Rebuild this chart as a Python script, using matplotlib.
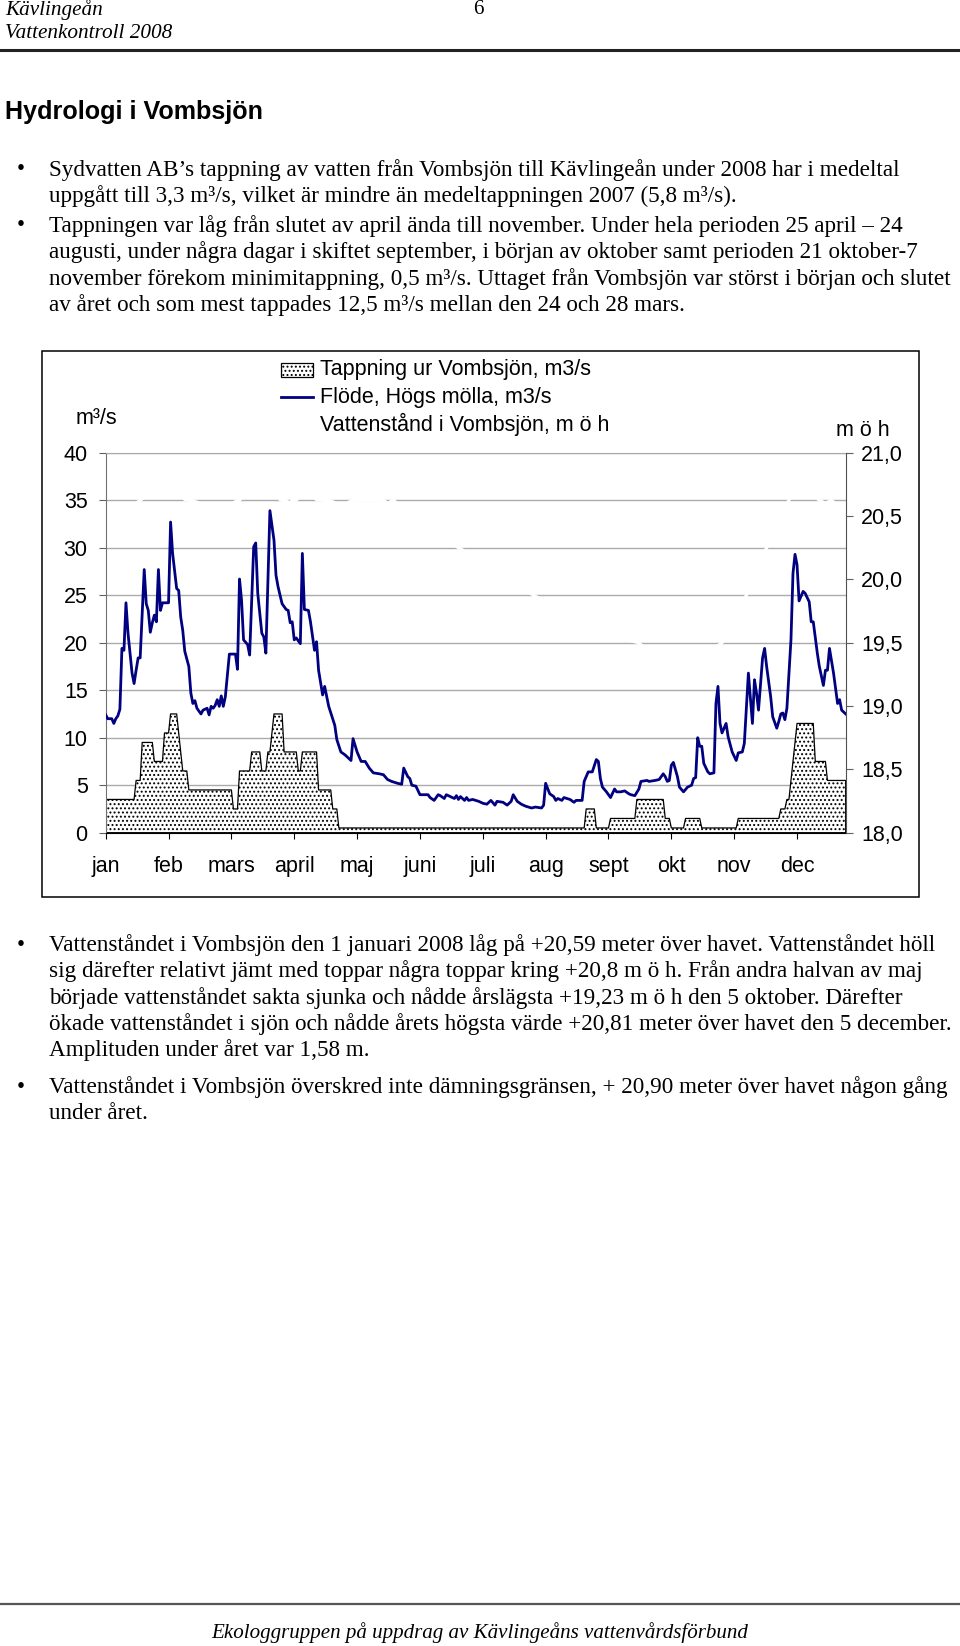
import numpy as np
import matplotlib
matplotlib.use("Agg")
import matplotlib.pyplot as plt
from matplotlib.patches import Rectangle
from matplotlib.lines import Line2D

# ---------------- data ----------------
months = ['jan', 'feb', 'mars', 'april', 'maj', 'juni', 'juli', 'aug', 'sept', 'okt', 'nov', 'dec']
# Excel category axis: a tick (and label) every 31 daily points
month_tick_days = [0, 31, 62, 93, 124, 155, 186, 217, 248, 279, 310, 341]

# Tappning ur Vombsjön (m3/s): daily values given as runs (level, number of days)
tap_levels = [3.5, 5.5, 9.5, 7.5, 10.5, 12.5, 10.5, 8.5, 6.5, 4.5,
              2.5, 6.5, 8.5, 6.5, 8.5, 10.5, 12.5, 8.5, 6.5, 8.5, 4.5, 2.5,
              0.5,
              2.5, 0.5, 1.5, 3.5, 1.5, 0.5, 1.5, 0.5, 1.5, 2.5, 3.5, 5.5, 7.5, 9.5, 11.5, 7.5, 5.5]
tap_ndays = [15, 3, 6, 5, 3, 4, 1, 1, 3, 22,
             3, 6, 5, 3, 2, 1, 5, 7, 2, 8, 7, 3,
             122,
             5, 7, 13, 14, 3, 7, 8, 18, 21, 3, 2, 1, 1, 1, 9, 6, 10]

# Flöde, Högs mölla (m3/s): day index (0 = 1 jan) and value
flow_days = [0, 1, 3, 4, 5, 6, 7, 8, 9, 10, 11, 13, 14, 15, 16, 17, 19, 20, 21, 22, 23, 24, 25, 26, 27, 28,
             31, 32, 33, 35, 36, 37, 38, 39, 41, 42, 43, 44, 45, 47, 48, 50, 51, 52, 53, 54, 55, 56, 57, 58,
             59, 61, 64, 65, 66, 67, 68, 70, 71, 73, 74, 75, 77, 78, 79, 81, 83, 84, 85, 87, 89, 90, 91, 92,
             93, 94, 96, 97, 98, 100, 101, 103, 104, 105, 107, 108, 110, 113, 114, 116, 118, 121, 122, 124,
             126, 128, 130, 132, 135, 137, 139, 141, 144, 146, 147, 149, 150, 151, 153, 155, 156, 159, 160,
             162, 164, 165, 167, 168, 170, 172, 173, 174, 175, 177, 178, 179, 181, 184, 186, 188, 190, 192,
             193, 196, 198, 200, 201, 203, 205, 207, 210, 212, 215, 216, 217, 219, 221, 222, 223, 225, 226,
             229, 231, 232, 235, 236, 238, 240, 242, 243, 244, 245, 247, 249, 251, 252, 254, 256, 258, 259,
             261, 263, 264, 267, 268, 271, 273, 275, 276, 277, 278, 279, 280, 282, 283, 285, 287, 289, 290,
             291, 292, 293, 294, 295, 297, 298, 300, 301, 302, 303, 304, 306, 307, 309, 311, 312, 314, 315,
             317, 319, 320, 321, 322, 324, 325, 326, 328, 329, 331, 332, 333, 334, 335, 336, 338, 339, 340,
             341, 342, 344, 345, 347, 348, 349, 351, 352, 354, 355, 356, 357, 359, 361, 362, 363, 365]
flow_vals = [12.4, 12.0, 12.0, 11.5, 12.0, 12.3, 13.0, 19.4, 19.2, 24.2, 21.0, 16.8, 15.7, 17.1, 18.4, 18.4,
             27.7, 24.1, 23.4, 21.1, 22.1, 22.9, 22.2, 27.7, 23.4, 24.2,
             24.2, 32.7, 29.4, 25.7, 25.5, 22.7, 21.3, 19.1, 17.5, 14.7, 13.6, 13.9, 13.1, 12.5, 12.9, 13.1,
             12.4, 13.3, 13.1, 13.4, 14.0, 13.3, 14.4, 13.3,
             14.3, 18.8, 18.8, 17.2, 26.7, 24.5, 20.3, 19.8, 18.7, 30.1, 30.5, 25.2, 21.0, 20.6, 18.9, 33.9,
             30.8, 27.1, 25.9, 24.1, 23.5, 23.4, 22.1, 22.2,
             20.3, 20.5, 19.9, 29.4, 23.5, 23.4, 22.2, 19.2, 20.1, 17.1, 14.5, 15.4, 13.3, 11.3, 9.8, 8.5,
             8.2, 7.6, 9.9, 8.5,
             7.5, 7.5, 6.8, 6.3, 6.2, 6.1, 5.6, 5.4, 5.2, 5.1, 6.8, 5.9, 5.7, 5.0, 4.9, 4.0, 4.0, 4.0, 3.7,
             3.4, 4.0, 3.9, 3.6, 4.0, 3.8, 3.6, 3.9, 3.5, 3.8, 3.4, 3.7, 3.4, 3.5, 3.3, 3.1, 3.0, 3.4, 2.9,
             3.3, 3.2, 2.9, 3.3, 4.0, 3.3, 3.0, 2.8, 2.6, 2.7, 2.6, 2.9, 5.2, 4.1, 3.8, 3.4, 3.6, 3.4, 3.7,
             3.5, 3.2, 3.4, 3.4, 5.4, 6.4, 6.4, 7.7, 7.5, 5.7, 4.8, 4.3, 3.7, 4.6, 4.3, 4.3, 4.4, 4.1, 4.0,
             3.9, 4.6, 5.4, 5.5, 5.4, 5.5, 5.6, 6.2, 5.9, 5.4, 5.5, 7.1, 7.4, 5.9, 4.8, 4.3, 4.8, 5.0, 5.7,
             5.8, 10.0, 9.1, 9.1, 7.3, 6.4, 6.2, 6.3, 13.6, 15.4, 11.5, 10.5, 11.5, 10.1, 8.5, 7.6, 8.4, 8.5,
             9.4,
             16.8, 11.5, 16.1, 14.7, 12.9, 18.4, 19.4, 17.5, 14.3, 12.2, 11.0, 11.7, 12.5, 12.6, 11.9, 13.1,
             20.3, 27.3, 29.3,
             28.2, 24.4, 25.4, 25.2, 24.3, 22.2, 22.2, 18.9, 17.5, 15.5, 17.1, 17.1, 19.4, 16.8, 13.6, 14.0,
             12.9, 12.5]

# Vattenstånd i Vombsjön (m ö h) - drawn in white in the original
level_days = [0, 15, 25, 33, 36, 39, 43, 50, 60, 65, 66, 70, 80, 86, 89, 91, 92, 94, 98, 104, 111, 116,
              122, 137, 139, 142, 150, 174, 195, 211, 230, 250, 263, 278, 290, 304, 316, 326, 333, 337,
              339, 345, 352, 355, 358, 361, 365]
level_vals = [20.59, 20.60, 20.72, 20.80, 20.70, 20.63, 20.62, 20.58, 20.57, 20.625, 20.625, 20.70, 20.80,
              20.63, 20.62, 20.60, 20.625, 20.625, 20.70, 20.63, 20.62, 20.58,
              20.625, 20.625, 20.60, 20.625, 20.50, 20.25, 20.05, 19.875, 19.70, 19.55, 19.50, 19.23,
              19.33, 19.50, 19.875, 20.25, 20.50, 20.625, 20.81, 20.72, 20.625, 20.60, 20.625, 20.58, 20.49]

left_ticks = [0, 5, 10, 15, 20, 25, 30, 35, 40]
right_ticks = [18.0, 18.5, 19.0, 19.5, 20.0, 20.5, 21.0]

# ---------------- page text ----------------
para1 = ["Sydvatten AB\u2019s tappning av vatten från Vombsjön till Kävlingeån under 2008 har i medeltal",
         "uppgått till 3,3 m\u00b3/s, vilket är mindre än medeltappningen 2007 (5,8 m\u00b3/s)."]
para2 = ["Tappningen var låg från slutet av april ända till november. Under hela perioden 25 april \u2013 24",
         "augusti, under några dagar i skiftet september, i början av oktober samt perioden 21 oktober-7",
         "november förekom minimitappning, 0,5 m\u00b3/s. Uttaget från Vombsjön var störst i början och slutet",
         "av året och som mest tappades 12,5 m\u00b3/s mellan den 24 och 28 mars."]
para3 = ["Vattenståndet i Vombsjön den 1 januari 2008 låg på +20,59 meter över havet. Vattenståndet höll",
         "sig därefter relativt jämt med toppar några toppar kring +20,8 m ö h. Från andra halvan av maj",
         "började vattenståndet sakta sjunka och nådde årslägsta +19,23 m ö h den 5 oktober. Därefter",
         "ökade vattenståndet i sjön och nådde årets högsta värde +20,81 meter över havet den 5 december.",
         "Amplituden under året var 1,58 m."]
para4 = ["Vattenståndet i Vombsjön överskred inte dämningsgränsen, + 20,90 meter över havet någon gång",
         "under året."]

W, H, DPI = 960, 1646, 100
SERIF = 'Liberation Serif'
SANS = 'Liberation Sans'
plt.rcParams['font.family'] = [SANS, 'DejaVu Sans']
plt.rcParams['hatch.linewidth'] = 0.9

fig = plt.figure(figsize=(W / DPI, H / DPI), dpi=DPI)
fig.patch.set_facecolor('white')


def fx(px):
    return px / W


def fy(py):
    return 1 - py / H


# ---------------- chart ----------------
CFS = 15.5
ax = fig.add_axes([fx(105.7), fy(832.7), (845.7 - 105.7) / W, (832.7 - 452.7) / H])
ax2 = ax.twinx()

tap_daily = np.repeat(tap_levels, tap_ndays)
days = np.arange(len(tap_daily))

ax.set_xlim(0, 365)
ax.set_ylim(0, 40)
ax2.set_ylim(18, 21)
ax.set_axisbelow(True)
ax.set_yticks(left_ticks)
ax.set_yticklabels([str(v) for v in left_ticks])
ax.yaxis.grid(True, color='#ababab', lw=1.0)

ax.plot(level_days, level_vals, color='white', lw=2.4, transform=ax2.transData, zorder=1.5)
ax.fill_between(days, tap_daily, 0, facecolor='white', edgecolor='black', hatch='....',
                lw=0.9, zorder=2)
ax.plot(flow_days, flow_vals, color='#000080', lw=2.0, zorder=3, solid_joinstyle='round')

ax.set_xticks(month_tick_days)
ax.set_xticklabels(months)
ax.tick_params(axis='x', direction='out', length=4, width=0.8, pad=13, labelsize=CFS, colors='black')
ax.tick_params(axis='y', direction='out', length=5, width=0.8, pad=8, labelsize=CFS,
               color='#606060', labelcolor='black')

ax2.set_yticks(right_ticks)
ax2.set_yticklabels([f"{v:.1f}".replace('.', ',') for v in right_ticks])
ax2.tick_params(axis='y', direction='out', length=5, width=0.8, pad=6, labelsize=CFS,
                color='#606060', labelcolor='black')

ax.spines['top'].set_color('#a8a8a8')
ax.spines['right'].set_visible(False)
ax.spines['left'].set_color('#707070')
ax.spines['bottom'].set_color('black')
for s in ['top', 'left', 'bottom']:
    ax2.spines[s].set_visible(False)
ax2.spines['right'].set_color('#505050')

# axis unit labels
fig.text(fx(76), fy(419), 'm\u00b3/s', fontsize=CFS, ha='left', va='center')
fig.text(fx(890), fy(430), 'm ö h', fontsize=CFS, ha='right', va='center')

# legend (manual, placed like the original)
fig.add_artist(Rectangle((fx(281), fy(377)), (313 - 281) / W, 14 / H, transform=fig.transFigure,
                         facecolor='white', edgecolor='black', hatch='....', lw=0.9))
fig.add_artist(Line2D([fx(281), fx(313)], [fy(397), fy(397)], color='#000080', lw=2.0,
                      transform=fig.transFigure))
fig.add_artist(Line2D([fx(281), fx(313)], [fy(424), fy(424)], color='white', lw=2.4,
                      transform=fig.transFigure))
fig.text(fx(320), fy(370), 'Tappning ur Vombsjön, m3/s', fontsize=CFS, va='center')
fig.text(fx(320), fy(397), 'Flöde, Högs mölla, m3/s', fontsize=CFS, va='center')
fig.text(fx(320), fy(424), 'Vattenstånd i Vombsjön, m ö h', fontsize=CFS, va='center')

# chart border
fig.add_artist(Rectangle((fx(42), fy(897)), 877 / W, 546 / H, transform=fig.transFigure,
                         fill=False, edgecolor='black', lw=1.1))

# ---------------- page texts ----------------
fig.canvas.draw()
renderer = fig.canvas.get_renderer()


def fitted_size(txt, family, style, weight, target_px, base=15.0):
    t = fig.text(0, 0, txt, fontsize=base, family=family, style=style, weight=weight)
    w = t.get_window_extent(renderer).width
    t.remove()
    return base * target_px / w


body_fs = fitted_size(para1[0], SERIF, 'normal', 'normal', 855)
title_fs = fitted_size('Hydrologi i Vombsjön', SANS, 'normal', 'bold', 259)
head_fs = fitted_size('Vattenkontroll 2008', SERIF, 'italic', 'normal', 168)
foot_fs = fitted_size('Ekologgruppen på uppdrag av Kävlingeåns vattenvårdsförbund', SERIF, 'italic',
                      'normal', 541)

# header
fig.text(fx(5), fy(10), 'Kävlingeån', family=SERIF, style='italic', fontsize=head_fs, va='center')
fig.text(fx(478), fy(10), '6', family=SERIF, fontsize=head_fs, va='center', ha='center')
fig.text(fx(5), fy(33), 'Vattenkontroll 2008', family=SERIF, style='italic', fontsize=head_fs,
         va='center')
fig.add_artist(Line2D([0, 1], [fy(50), fy(50)], color='#222222', lw=2.2, transform=fig.transFigure))

# title
fig.text(fx(5), fy(112), 'Hydrologi i Vombsjön', family=SANS, weight='bold', fontsize=title_fs,
         va='center')


def paragraph(lines, y0, step=26.3):
    fig.text(fx(21), fy(y0), '\u2022', family=SERIF, fontsize=body_fs, ha='center', va='center')
    for i, ln in enumerate(lines):
        fig.text(fx(49), fy(y0 + i * step), ln, family=SERIF, fontsize=body_fs, va='center')


paragraph(para1, 170)
paragraph(para2, 226)
paragraph(para3, 945)
paragraph(para4, 1087)

# footer
fig.add_artist(Line2D([0, 1], [fy(1604), fy(1604)], color='#555555', lw=1.6, transform=fig.transFigure))
fig.text(fx(480), fy(1633), 'Ekologgruppen på uppdrag av Kävlingeåns vattenvårdsförbund', family=SERIF,
         style='italic', fontsize=foot_fs, ha='center', va='center')

fig.savefig('out.png', dpi=DPI, facecolor='white')
